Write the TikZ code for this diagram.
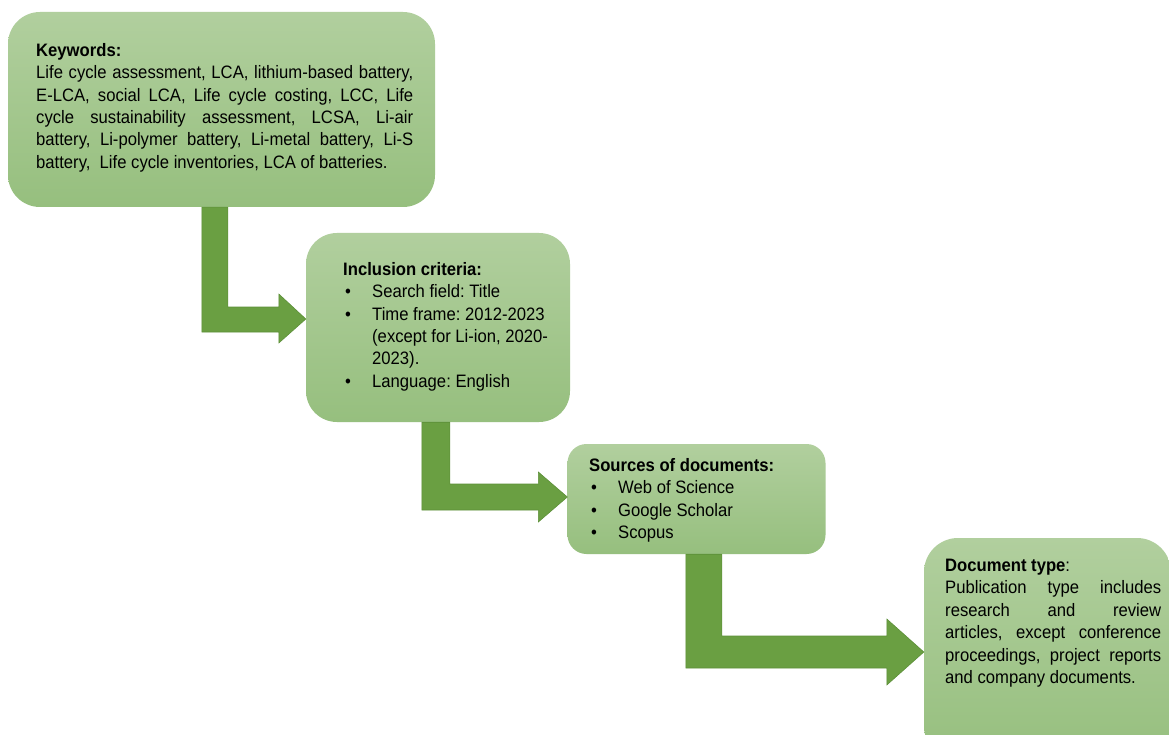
\documentclass[tikz,border=0pt]{standalone}
\usepackage{fontspec}
\setmainfont{Liberation Sans}[FakeStretch=0.925]
\usetikzlibrary{calc}
\definecolor{boxtop}{RGB}{177,207,158}
\definecolor{boxbot}{RGB}{150,191,126}
\definecolor{arrowgreen}{RGB}{106,159,66}
\definecolor{arrowedge}{RGB}{92,143,56}
\newcommand\blt[1]{\makebox[29pt][l]{\hspace{2pt}•}#1}
\newcommand\cont[1]{\hspace*{29pt}#1}
\frenchspacing
\begin{document}
\begin{tikzpicture}[x=1pt,y=-1pt,
  roundbox/.style={rectangle, rounded corners=#1, top color=boxtop, bottom color=boxbot, draw=none, inner sep=0pt},
  roundbox/.default=30pt,
  txt/.style={anchor=north west, inner sep=0pt, align=left, font=\fontsize{18}{22.4}\selectfont\frenchspacing, text=black},
  blockarrow/.style={fill=arrowgreen, draw=arrowedge, line width=0.6pt, line join=miter}]
\clip (0,0) rectangle (1169,735);
\fill[white] (0,0) rectangle (1169,735);
% boxes
\node[roundbox=32pt, minimum width=427pt, minimum height=195pt] (kw) at (221.5,109.5) {};
\node[roundbox=31pt, minimum width=264pt, minimum height=189pt] (inc) at (438,327.5) {};
\node[roundbox=19pt, minimum width=258pt, minimum height=110pt] (src) at (696.5,499) {};
\node[roundbox=34pt, minimum width=247pt, minimum height=222pt] (doc) at (1047.5,649) {};
% texts
\node[txt] (kwt) at (36,43) {\textbf{Keywords:}\\
\makebox[377pt][s]{Life cycle assessment, LCA, lithium-based battery,}\\
\makebox[377pt][s]{E-LCA, social LCA, Life cycle costing, LCC, Life}\\
\makebox[377pt][s]{cycle sustainability assessment, LCSA, Li-air}\\
\makebox[377pt][s]{battery, Li-polymer battery, Li-metal battery, Li-S}\\
battery,\ \ Life cycle inventories, LCA of batteries.};
\node[txt] (inct) at (343,262) {\textbf{Inclusion criteria:}\\
\blt{Search field: Title}\\
\blt{Time frame: 2012-2023}\\
\cont{(except for Li-ion, 2020-}\\
\cont{2023).}\\
\blt{Language: English}};
\node[txt] (srct) at (589,458) {\textbf{Sources of documents:}\\
\blt{Web of Science}\\
\blt{Google Scholar}\\
\blt{Scopus}};
\node[txt] (doct) at (945,559) {\textbf{Document type}:\\
\makebox[216pt][s]{Publication type includes}\\
\makebox[216pt][s]{research and review}\\
\makebox[216pt][s]{articles, except conference}\\
\makebox[216pt][s]{proceedings, project reports}\\
and company documents.};
% bent arrows
\coordinate (a1s) at ($(kw.south west)+(194,0)$);
\coordinate (a1t) at ($(inc.west)+(0,-8.5)$);
\draw[blockarrow] (a1s) -- ++(26,0) |- ($(a1t)+(-27,-12)$) -- ++(0,-13) -- (a1t)
  -- ($(a1t)+(-27,24)$) -- ++(0,-11) -| (a1s) -- cycle;
\coordinate (a2s) at ($(inc.south west)+(116,0)$);
\coordinate (a2t) at ($(src.west)+(0,-2)$);
\draw[blockarrow] (a2s) -- ++(28,0) |- ($(a2t)+(-29,-13)$) -- ++(0,-12) -- (a2t)
  -- ($(a2t)+(-29,25)$) -- ++(0,-12) -| (a2s) -- cycle;
\coordinate (a3s) at ($(src.south west)+(118.5,0)$);
\coordinate (a3t) at ($(doc.west)+(0,3)$);
\draw[blockarrow] (a3s) -- ++(36,0) |- ($(a3t)+(-37,-16)$) -- ++(0,-17) -- (a3t)
  -- ($(a3t)+(-37,33)$) -- ++(0,-17) -| (a3s) -- cycle;
\end{tikzpicture}
\end{document}
